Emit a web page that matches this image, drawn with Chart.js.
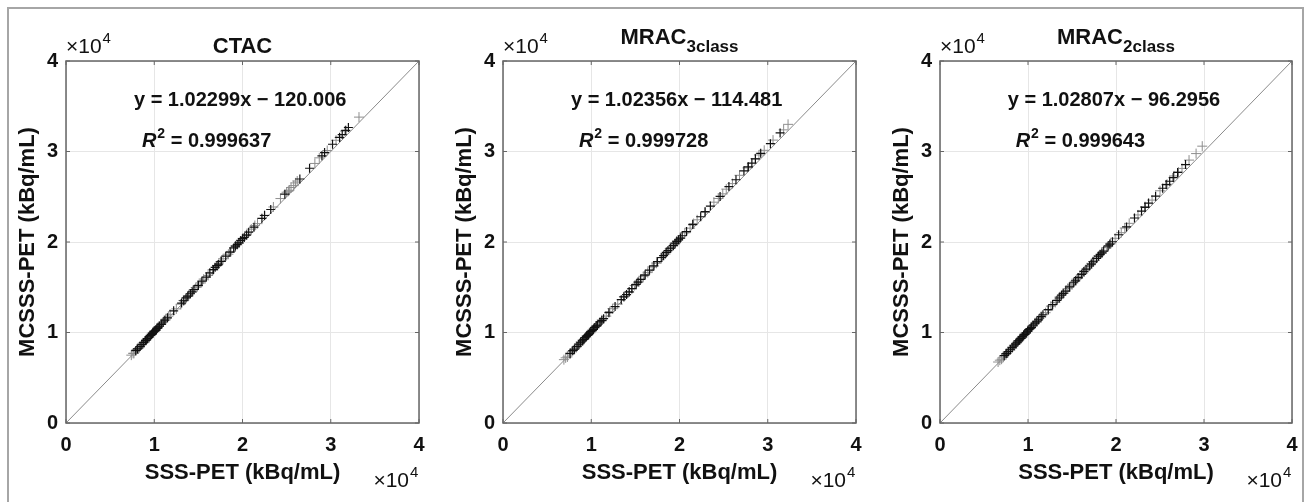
<!DOCTYPE html>
<html>
<head>
<meta charset="utf-8">
<script src="https://cdn.jsdelivr.net/npm/chart.js@4.4.1/dist/chart.umd.min.js"></script>
<style>
  html, body { margin: 0; padding: 0; background: #fff; }
  #wrap { position: relative; width: 1310px; height: 502px; overflow: hidden; }
  #wrap canvas { position: absolute; top: 0; }
  #frame { position: absolute; left: 7px; top: 7px; width: 1293px; height: 520px; border: 2px solid #a6a6a6; pointer-events: none; }
</style>
</head>
<body>
<div id="wrap">
  <canvas id="ctac" width="437" height="502" style="left:0px"></canvas>
  <canvas id="mrac3" width="437" height="502" style="left:437px"></canvas>
  <canvas id="mrac2" width="436" height="502" style="left:874px"></canvas>
  <div id="frame"></div>
</div>
<script>
// axis ticks (kBq/mL), shown as x10^4
const tickValues = [0, 10000, 20000, 30000, 40000];
const xTitle = 'SSS-PET (kBq/mL)';
const yTitle = 'MCSSS-PET (kBq/mL)';

// panel titles and fit text
const titles = ['CTAC', 'MRAC', 'MRAC'];
const subTitles = ['', '3class', '2class'];
const equations = ['y = 1.02299x \u2212 120.006', 'y = 1.02356x \u2212 114.481', 'y = 1.02807x \u2212 96.2956'];
const rSquared = ['0.999637', '0.999728', '0.999643'];

// identity line
const identity = [[0, 0], [40000, 40000]];

// CTAC points [SSS, MCSSS]
const ctacBlack = [[7900,7990],[8100,8190],[8400,8440],[8600,8650],[8800,8900],[9000,9110],[9100,9160],[9250,9320],
  [9400,9530],[9550,9680],[9700,9790],[9800,9880],[9900,10040],[10000,10140],[10100,10190],[10200,10290],[10300,10450],
  [10450,10600],[10600,10700],[10800,10900],[11000,11160],[11200,11360],[11500,11620],[12200,12390],[13100,13250],
  [13350,13510],[13600,13820],[13800,14030],[14100,14280],[14300,14480],[14500,14750],[15000,15200],[15400,15670],
  [15900,16120],[16300,16590],[16700,16940],[16900,17200],[17100,17400],[17300,17550],[17600,17860],[18100,18430],
  [18600,18880],[19000,19350],[19200,19550],[19400,19700],[19600,19900],[19800,20170],[20000,20370],[20200,20510],
  [20450,20770],[20700,21090],[21300,21640],[22200,22620],[22500,22930],[23200,23590],[24800,25280],[26500,26960],
  [27600,28150],[29000,29520],[29300,29880],[30200,30800],[31000,31560],[31300,31870],[31700,32340],[32000,32650]];
const ctacGray = [[7400,7500],[7600,7700],[7700,7700],[8000,8120],[8200,8230],[8300,8320],[8600,8730],[8700,8830],
  [8900,8940],[9200,9350],[9400,9450],[9600,9650],[9800,9960],[10000,10170],[10200,10270],[10400,10470],[10800,10990],
  [11300,11390],[11600,11800],[11800,12010],[12500,12610],[13000,13130],[13300,13540],[13900,14050],[14400,14670],
  [14700,14970],[14900,15070],[15300,15480],[15600,15900],[16100,16300],[16600,16920],[17200,17420],[17500,17840],
  [17800,18150],[18400,18650],[18700,18960],[19200,19580],[19600,19880],[20000,20400],[20500,20800],[21000,21420],
  [21400,21820],[21700,22030],[22500,22950],[23500,23870],[24300,24800],[25000,25500],[25200,25610],[25300,25720],
  [25500,26020],[25800,26230],[26000,26530],[26200,26740],[28200,28680],[28700,29300],[29600,30110],[30600,31240],
  [31000,31540],[31600,32260],[33200,33800]];

// MRAC 3-class points
const mrac3Black = [[7600,7690],[7900,7990],[8100,8150],[8400,8460],[8600,8710],[8800,8920],[9000,9070],[9150,9230],
  [9300,9430],[9450,9580],[9600,9690],[9700,9790],[9800,9940],[9950,10100],[10100,10200],[10250,10350],[10400,10560],
  [10550,10710],[10700,10810],[11000,11170],[11200,11320],[11400,11530],[12000,12190],[12700,12860],[13400,13630],
  [13700,13940],[14000,14190],[14300,14500],[14600,14860],[15100,15320],[15300,15570],[15600,15880],[16100,16340],
  [16600,16900],[17100,17360],[17500,17830],[18000,18290],[18200,18490],[18500,18850],[18700,19050],[19000,19310],
  [19300,19610],[19500,19870],[19700,20080],[19900,20230],[20100,20430],[20300,20690],[20800,21150],[21500,21920],
  [22400,22790],[22900,23350],[23500,23970],[24600,25040],[25600,26120],[26400,26880],[27300,27860],[27800,28310],
  [28200,28720],[28600,29190],[29200,29800],[30300,30870],[31400,32050]];
const mrac3Gray = [[6900,7000],[7100,7200],[7300,7300],[7600,7620],[7800,7920],[8100,8230],[8300,8330],[8600,8640],
  [8800,8950],[9000,9150],[9200,9250],[9500,9660],[9700,9770],[9900,9970],[10100,10270],[10300,10480],[10600,10690],
  [10900,11000],[11200,11400],[11700,11810],[12100,12320],[12400,12630],[13000,13140],[13700,13960],[14300,14470],
  [14600,14790],[14900,15190],[15400,15600],[15900,16210],[16100,16410],[16400,16620],[16900,17240],[17400,17650],
  [17900,18260],[18400,18670],[18900,19280],[19000,19380],[19300,19590],[19500,19800],[19700,20100],[20100,20410],
  [20600,21020],[21200,21530],[21600,22040],[22000,22450],[22900,23280],[23900,24400],[24400,24810],[24900,25320],
  [25300,25840],[26000,26450],[26800,27370],[27700,28190],[28600,29210],[29000,29620],[29600,30130],[30600,31260],
  [31800,32390],[32300,33000]];

// MRAC 2-class points
const mrac2Black = [[7300,7440],[7500,7640],[7600,7690],[7800,7900],[8000,8150],[8200,8360],[8400,8510],[8600,8720],
  [8750,8920],[8900,9080],[9050,9180],[9200,9340],[9350,9540],[9500,9700],[9650,9800],[9800,9950],[9950,10160],
  [10100,10310],[10250,10420],[10400,10570],[10600,10830],[10800,11040],[11000,11190],[11200,11390],[11500,11750],
  [11700,11960],[12300,12520],[12800,13090],[13300,13550],[13550,13810],[13800,14120],[14000,14320],[14300,14580],
  [14700,15040],[15200,15500],[15400,15710],[15700,16070],[16100,16430],[16350,16740],[16600,17000],[17000,17350],
  [17200,17560],[17400,17820],[17800,18180],[18000,18430],[18200,18640],[18400,18790],[18600,19000],[19100,19570],
  [19300,19770],[19600,20030],[20300,20800],[21200,21670],[22100,22650],[22900,23420],[23300,23830],[23700,24300],
  [24500,25060],[25300,25940],[25700,26350],[26100,26710],[26500,27120],[27000,27690],[27900,28560]];
const mrac2Gray = [[6600,6740],[6800,6940],[7000,7050],[7200,7270],[7500,7670],[7700,7870],[8000,8080],[8200,8290],
  [8400,8590],[8700,8800],[8900,9100],[9100,9310],[9300,9420],[9400,9520],[9600,9820],[9700,9930],[10000,10140],
  [10300,10450],[10500,10750],[11000,11160],[11300,11570],[11500,11780],[12000,12190],[12300,12500],[12600,12910],
  [13100,13320],[13600,13940],[14100,14350],[14500,14860],[14800,15170],[15000,15270],[15500,15890],[15900,16200],
  [16200,16510],[16400,16820],[16800,17130],[17200,17640],[17400,17840],[17600,17950],[18000,18460],[18400,18770],
  [18900,19390],[19100,19490],[19400,19800],[19900,20410],[20600,21030],[21000,21540],[21500,22060],[22500,22990],
  [23300,23910],[24100,24630],[25000,25660],[25800,26380],[26600,27300],[27100,27720],[27500,28130],[28300,29050],
  [29100,29770],[29800,30590]];

const FONT = '"Liberation Sans", Arial, Helvetica, sans-serif';
const toXY = arr => arr.map(p => ({ x: p[0], y: p[1] }));

// box, inner ticks, titles and the fit text (MATLAB look)
const decor = {
  id: 'decor',
  afterDraw(chart, args, o) {
    const { ctx, chartArea: a, scales: { x, y } } = chart;
    ctx.save();
    ctx.strokeStyle = '#666';
    ctx.lineWidth = 1.5;
    ctx.strokeRect(a.left, a.top, a.right - a.left, a.bottom - a.top);
    ctx.lineWidth = 1;
    ctx.beginPath();
    tickValues.forEach(v => {
      const px = x.getPixelForValue(v), py = y.getPixelForValue(v);
      ctx.moveTo(px, a.bottom); ctx.lineTo(px, a.bottom - 4);
      ctx.moveTo(px, a.top); ctx.lineTo(px, a.top + 4);
      ctx.moveTo(a.left, py); ctx.lineTo(a.left + 4, py);
      ctx.moveTo(a.right, py); ctx.lineTo(a.right - 4, py);
    });
    ctx.stroke();

    ctx.fillStyle = '#111';
    ctx.textBaseline = 'alphabetic';
    ctx.textAlign = 'left';

    // title (with subscript)
    ctx.font = 'bold 22px ' + FONT;
    const w1 = ctx.measureText(o.title).width;
    ctx.font = 'bold 17px ' + FONT;
    const w2 = o.sub ? ctx.measureText(o.sub).width : 0;
    const cx = (a.left + a.right) / 2;
    const tx = cx - (w1 + w2) / 2;
    const base = o.sub ? a.top - 17 : a.top - 8;
    ctx.font = 'bold 22px ' + FONT;
    ctx.fillText(o.title, tx, base);
    if (o.sub) {
      ctx.font = 'bold 17px ' + FONT;
      ctx.fillText(o.sub, tx + w1, base + 8);
    }

    // exponent labels
    const expo = (xLeft, yBase) => {
      ctx.font = '21px ' + FONT;
      ctx.fillText('\u00d710', xLeft, yBase);
      const w = ctx.measureText('\u00d710').width;
      ctx.font = '15px ' + FONT;
      ctx.fillText('4', xLeft + w + 1, yBase - 10);
    };
    expo(a.left, a.top - 8);
    ctx.font = '21px ' + FONT;
    const we = ctx.measureText('\u00d710').width + 10;
    expo(a.right - we, 487);

    // fit equation and R^2
    ctx.font = 'bold 20px ' + FONT;
    ctx.fillText(o.eq, x.getPixelForValue(7700), y.getPixelForValue(35000));
    let rx = x.getPixelForValue(8600);
    const ry = y.getPixelForValue(30500);
    ctx.font = 'italic bold 20px ' + FONT;
    ctx.fillText('R', rx, ry);
    rx += ctx.measureText('R').width;
    ctx.font = 'bold 14px ' + FONT;
    ctx.fillText('2', rx + 1, ry - 9);
    rx += ctx.measureText('2').width + 1;
    ctx.font = 'bold 20px ' + FONT;
    ctx.fillText(' = ' + o.r2, rx, ry);
    ctx.restore();
  }
};

function makePanel(canvasId, i, black, gray) {
  new Chart(document.getElementById(canvasId).getContext('2d'), {
    type: 'scatter',
    data: {
      datasets: [
        {
          data: toXY(black),
          pointStyle: 'cross',
          pointRadius: 4.5,
          borderColor: '#111',
          backgroundColor: '#111',
          borderWidth: 1.2
        },
        {
          data: toXY(gray),
          pointStyle: 'cross',
          pointRadius: 5,
          borderColor: '#8e8e8e',
          backgroundColor: '#8e8e8e',
          borderWidth: 1
        },
        {
          type: 'line',
          data: toXY(identity),
          borderColor: '#8a8a8a',
          borderWidth: 1,
          pointRadius: 0
        }
      ]
    },
    options: {
      responsive: false,
      animation: false,
      devicePixelRatio: 1,
      layout: { padding: { left: 12, right: 18, top: 61, bottom: 14 } },
      plugins: {
        legend: { display: false },
        tooltip: { enabled: false },
        decor: { title: titles[i], sub: subTitles[i], eq: equations[i], r2: rSquared[i] }
      },
      scales: {
        x: {
          type: 'linear', min: 0, max: 40000,
          afterBuildTicks: s => { s.ticks = tickValues.map(v => ({ value: v })); },
          afterFit: s => { s.height = 65; },
          ticks: { callback: v => v / 10000, color: '#111', padding: 10, maxRotation: 0,
                   font: { family: FONT, size: 20, weight: 'bold' } },
          grid: { color: '#e6e6e6', drawTicks: false },
          border: { display: false },
          title: { display: true, text: xTitle, color: '#111', padding: { top: 2, bottom: 2 },
                   font: { family: FONT, size: 22, weight: 'bold' } }
        },
        y: {
          type: 'linear', min: 0, max: 40000,
          afterBuildTicks: s => { s.ticks = tickValues.map(v => ({ value: v })); },
          afterFit: s => { s.width = 54; },
          ticks: { callback: v => v / 10000, color: '#111', padding: 8,
                   font: { family: FONT, size: 20, weight: 'bold' } },
          grid: { color: '#e6e6e6', drawTicks: false },
          border: { display: false },
          title: { display: true, text: yTitle, color: '#111', padding: { top: 3, bottom: 3 },
                   font: { family: FONT, size: 22, weight: 'bold' } }
        }
      }
    },
    plugins: [decor]
  });
}

makePanel('ctac', 0, ctacBlack, ctacGray);
makePanel('mrac3', 1, mrac3Black, mrac3Gray);
makePanel('mrac2', 2, mrac2Black, mrac2Gray);
</script>
</body>
</html>
